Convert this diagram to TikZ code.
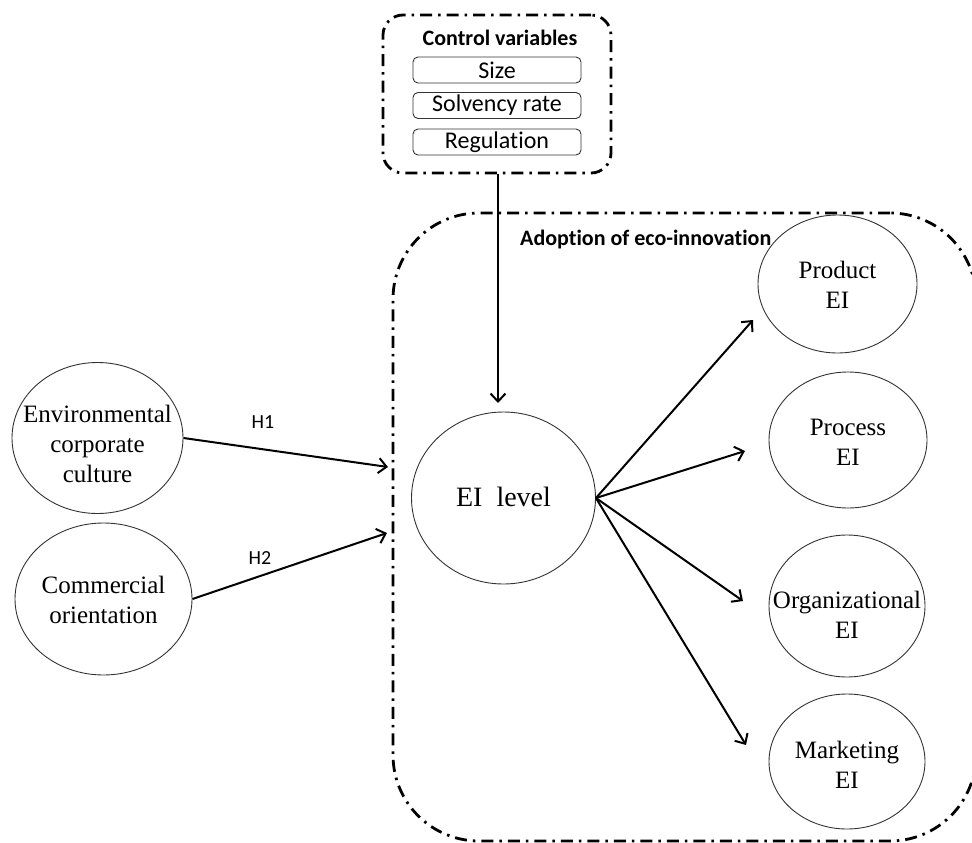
\documentclass[tikz,border=0pt]{standalone}
\usepackage{fontspec}
\setmainfont{Liberation Serif}
\newfontfamily\calib[Ligatures=NoCommon]{Carlito}
\usetikzlibrary{shapes.geometric,arrows.meta}
\begin{document}
\begin{tikzpicture}[x=1pt,y=-1pt,
  dashdot/.style={draw=black,line width=2.8pt,dash pattern=on 12pt off 6pt on 2.5pt off 6pt},
  ell/.style={ellipse,draw=black!80,line width=0.9pt,inner sep=0pt},
  etext/.style={align=center,inner sep=0pt,font=\fontsize{25}{30}\selectfont},
  cvbox/.style={rectangle,rounded corners=5pt,draw=black!80,line width=0.9pt,
    minimum width=168pt,minimum height=26pt,inner sep=0pt,font=\calib\fontsize{24}{28}\selectfont},
  boldlab/.style={font=\calib\bfseries\fontsize{22}{26}\selectfont,inner sep=0pt},
  hlab/.style={font=\calib\fontsize{20}{24}\selectfont,inner sep=0pt},
  arr/.style={line width=2pt,-{Straight Barb[length=8pt,width=15pt,line width=2pt]}}]
\useasboundingbox (0,0) rectangle (972,843);
% big box
\node[dashdot,rectangle,rounded corners=86pt,minimum width=583pt,minimum height=628pt,inner sep=0pt]
  (adopt) at (684.5,527) {};
\node[boldlab,anchor=west] (adoptlab) at (520,240) {Adoption of eco-innovation};
% control box
\node[dashdot,rectangle,rounded corners=20pt,minimum width=228pt,minimum height=158pt,inner sep=0pt]
  (ctrl) at (497,94) {};
\node[boldlab] (ctrllab) at (500,38) {Control variables};
\node[cvbox] (size) at (497,70) {Size};
\node[cvbox] (solv) at (497,105.5) {Solvency rate};
\node[cvbox] (reg) at (497,142) {Regulation};
% ellipses
\node[ell,minimum width=171pt,minimum height=151pt] (env) at (97.5,438) {};
\node[etext] (envt) at (97.5,444) {Environmental\\corporate\\culture};
\node[ell,minimum width=177pt,minimum height=152pt] (com) at (103.5,599) {};
\node[etext] (comt) at (103.5,600) {Commercial\\orientation};
\node[ell,minimum width=184pt,minimum height=172pt] (eil) at (503.5,498) {};
\node[etext,font=\fontsize{28}{32}\selectfont] (eilt) at (503.5,497) {EI\ \ level};
\node[ell,minimum width=159pt,minimum height=138pt] (prod) at (837.5,284) {};
\node[etext] (prodt) at (837.5,285) {Product\\EI};
\node[ell,minimum width=158pt,minimum height=136pt] (proc) at (848,440) {};
\node[etext] (proct) at (848,442) {Process\\EI};
\node[ell,minimum width=156pt,minimum height=142pt] (org) at (847,606) {};
\node[etext] (orgt) at (847,615) {Organizational\\EI};
\node[ell,minimum width=156pt,minimum height=135pt] (mkt) at (847,761.5) {};
\node[etext] (mktt) at (847,765) {Marketing\\EI};
% arrow end points
\coordinate (h1end) at (388,467);
\coordinate (h2end) at (387,533);
\coordinate (prodend) at (753,320);
\coordinate (procend) at (745,451);
\coordinate (orgend) at (743,601);
\coordinate (mktend) at (746,745);
\coordinate (ctrlend) at (498,403);
% connectors
\draw[arr] (env.east) -- (h1end);
\draw[arr] (com.east) -- (h2end);
\node[hlab] (h1) at (263,422) {H1};
\node[hlab] (h2) at (260,558) {H2};
\draw[arr] (ctrl.south -| ctrlend) -- (ctrlend);
\draw[arr] (eil.east) -- (prodend);
\draw[arr] (eil.east) -- (procend);
\draw[arr] (eil.east) -- (orgend);
\draw[arr] (eil.east) -- (mktend);
\end{tikzpicture}
\end{document}
